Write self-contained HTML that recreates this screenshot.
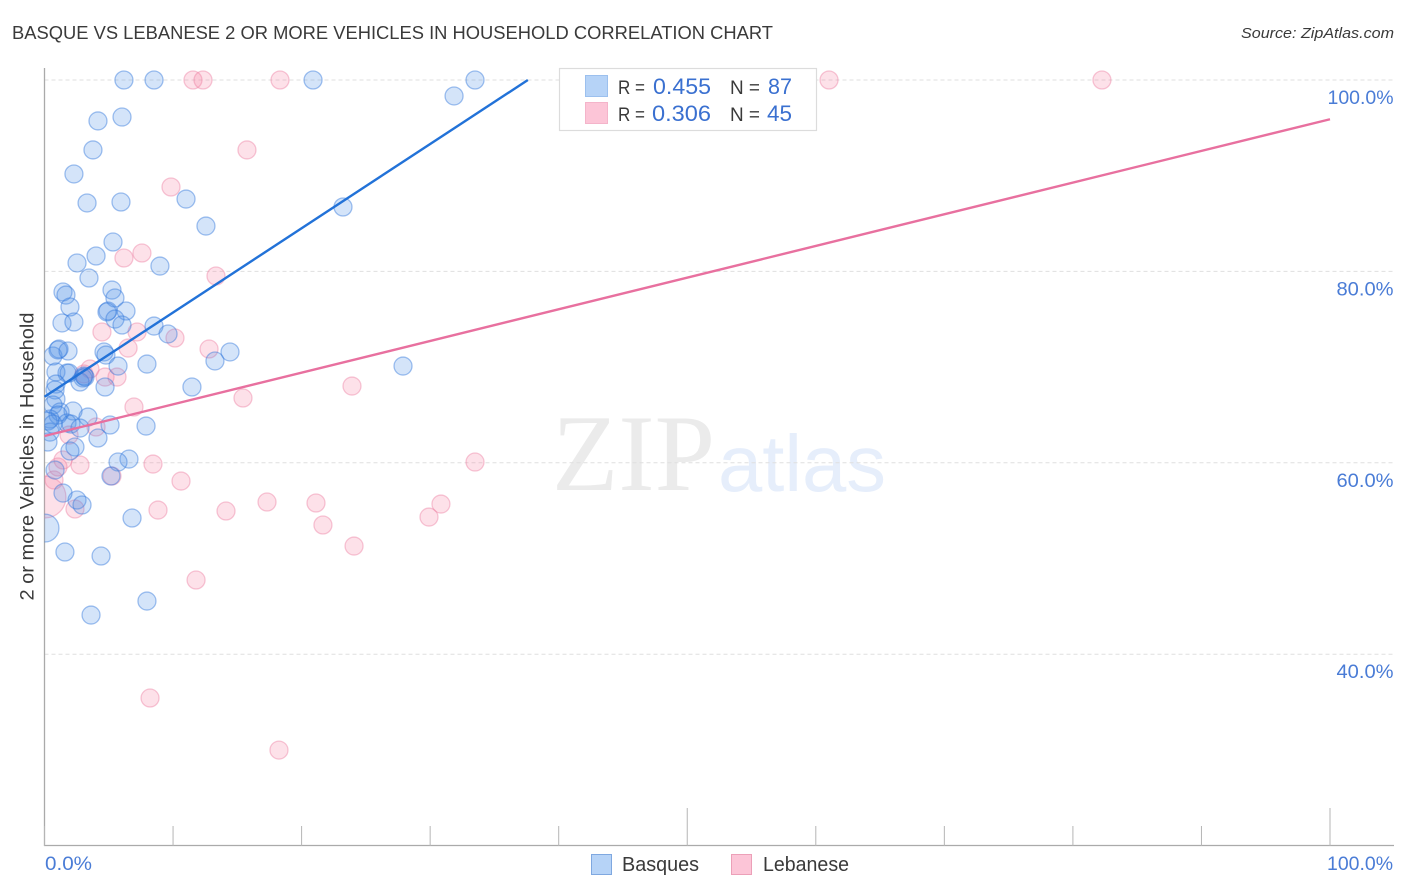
<!DOCTYPE html>
<html lang="en">
<head>
<meta charset="utf-8">
<title>Basque vs Lebanese 2 or More Vehicles in Household Correlation Chart</title>
<style>
html,body{margin:0;padding:0;background:#fff;width:1406px;height:892px;overflow:hidden}
svg{display:block;font-family:"Liberation Sans",sans-serif}
</style>
</head>
<body>
<svg id="chart" xmlns="http://www.w3.org/2000/svg" width="1406" height="892" viewBox="0 0 1406 892">
  <rect width="1406" height="892" fill="#fff"/>
  <text x="12" y="39" font-size="18.5" fill="#3a3a3a" textLength="761" lengthAdjust="spacingAndGlyphs">BASQUE VS LEBANESE 2 OR MORE VEHICLES IN HOUSEHOLD CORRELATION CHART</text>
  <text x="1241" y="38" font-size="15" font-style="italic" fill="#3a3a3a" textLength="153" lengthAdjust="spacingAndGlyphs">Source: ZipAtlas.com</text>
  <g id="watermark">
    <text x="552" y="490" font-family="'Liberation Serif',serif" font-size="109" fill="#ebebeb" textLength="163" lengthAdjust="spacingAndGlyphs">ZIP</text>
    <text x="718" y="491" font-size="80" fill="#e6eefb" textLength="168" lengthAdjust="spacingAndGlyphs">atlas</text>
  </g>
  <g id="grid"></g>
  <g id="axes"></g>
  <defs><clipPath id="plot-clip"><rect x="44.5" y="60" width="1350" height="785"/></clipPath></defs>
  <g id="marks" clip-path="url(#plot-clip)"></g>
  <g id="trends"></g>
  <text transform="translate(33.5,456.5) rotate(-90)" text-anchor="middle" font-size="19" fill="#3a3a3a" textLength="288" lengthAdjust="spacingAndGlyphs">2 or more Vehicles in Household</text>
  <g id="stats-legend">
    <rect x="559.5" y="68.5" width="257" height="62" fill="#fff" stroke="#dcdcdc" stroke-width="1.2"/>
    <rect x="585.5" y="75.5" width="22" height="21" fill="#b6d3f7" stroke="#9cc0ee"/>
    <rect x="585.5" y="102.5" width="22" height="21" fill="#fcc5d7" stroke="#f4b4ca"/>
    <text x="618" y="94" font-size="19" fill="#3a3a3a" textLength="27" lengthAdjust="spacingAndGlyphs">R =</text>
    <text x="653" y="94" font-size="22" fill="#3a70d0" textLength="58" lengthAdjust="spacingAndGlyphs">0.455</text>
    <text x="730" y="94" font-size="19" fill="#3a3a3a" textLength="30" lengthAdjust="spacingAndGlyphs">N =</text>
    <text x="768" y="94" font-size="22" fill="#3a70d0" textLength="24" lengthAdjust="spacingAndGlyphs">87</text>
    <text x="618" y="121" font-size="19" fill="#3a3a3a" textLength="27" lengthAdjust="spacingAndGlyphs">R =</text>
    <text x="652" y="121" font-size="22" fill="#3a70d0" textLength="59" lengthAdjust="spacingAndGlyphs">0.306</text>
    <text x="730" y="121" font-size="19" fill="#3a3a3a" textLength="30" lengthAdjust="spacingAndGlyphs">N =</text>
    <text x="767" y="121" font-size="22" fill="#3a70d0" textLength="25" lengthAdjust="spacingAndGlyphs">45</text>
  </g>
  <g id="bottom-legend">
    <rect x="591.5" y="854.5" width="20" height="20" fill="#b6d3f7" stroke="#7fa8e0"/>
    <text x="622" y="871" font-size="20" fill="#3a3a3a" textLength="77" lengthAdjust="spacingAndGlyphs">Basques</text>
    <rect x="731.5" y="854.5" width="20" height="20" fill="#fcc5d7" stroke="#eca0b8"/>
    <text x="763" y="871" font-size="20" fill="#3a3a3a" textLength="86" lengthAdjust="spacingAndGlyphs">Lebanese</text>
  </g>
</svg>
<script>
const yTickValues = [100, 80, 60, 40];
const yTickLabels = ['100.0%', '80.0%', '60.0%', '40.0%'];
const xTickValues = [0, 10, 20, 30, 40, 50, 60, 70, 80, 90, 100];
const xEndLabels = ['0.0%', '100.0%'];

const basqueX = [6.18,8.52,20.89,33.49,31.86,4.16,6.03,3.77,2.29,3.31,5.95,11.01,12.56,23.22,5.33,4.01,2.53,8.98,3.46,1.44,1.67,1.98,1.36,2.29,5.25,5.48,4.94,4.86,6.34,5.48,6.03,8.52,9.61,0.66,1.13,1.05,1.83,4.63,4.78,14.43,13.26,7.97,5.72,27.89,0.89,1.75,1.91,3.15,2.99,2.76,4.71,11.47,0.89,0.82,0.89,0.66,2.22,1.21,1.05,3.38,0.43,0.27,1.75,2.06,2.76,5.10,7.90,0.43,0.27,4.16,2.37,1.98,6.57,5.72,5.17,0.82,1.44,2.53,2.92,6.81,0.04,1.59,4.40,7.97,3.62,0.66,3.07];
const basqueY = [100,100,100,100,98.33,95.72,96.13,92.69,90.18,87.15,87.25,87.56,84.74,86.73,83.07,81.61,80.88,80.56,79.31,77.85,77.53,76.28,74.61,74.71,78.05,77.22,75.86,75.76,75.86,75.02,74.40,74.29,73.46,71.16,71.89,71.79,71.68,71.58,71.26,71.58,70.64,70.32,70.11,70.11,69.49,69.38,69.38,68.96,68.86,68.44,67.92,67.92,68.23,67.61,66.66,66.04,65.41,65.31,64.99,64.78,64.57,64.36,64.16,64.05,63.63,63.95,63.84,63.21,62.17,62.59,61.65,61.23,60.39,60.08,58.62,59.24,56.84,56.11,55.59,54.23,53.18,50.68,50.26,45.55,44.09,64.05,69.07];
const lebaneseX = [11.55,12.33,18.32,61.03,82.26,15.75,9.84,7.58,6.18,13.34,4.47,7.20,10.15,12.80,6.50,3.54,3.07,4.71,5.64,23.92,15.44,6.96,4.01,1.91,1.44,2.76,8.44,33.49,1.05,5.25,10.62,0.74,8.83,2.37,14.12,17.31,21.12,30.84,29.91,21.66,24.08,11.79,8.21,18.24,0.04];
const lebaneseY = [100,100,100,100,100,92.69,88.82,81.92,81.40,79.52,73.67,73.67,73.04,71.89,71.99,69.80,69.28,68.96,68.96,68.02,66.77,65.83,63.74,62.90,60.29,59.77,59.87,60.08,59.56,58.62,58.09,58.20,55.06,55.17,54.96,55.90,55.80,55.69,54.33,53.50,51.30,47.75,35.42,29.98,56.42];
// relative sample weight of the few oversized points, by point index
const basqueWeights = {80: 2.4};
const lebaneseWeights = {44: 5.4};

const basqueTrendX = [0, 37.6];
const basqueTrendY = [66.9, 100];
const lebaneseTrendX = [0, 100];
const lebaneseTrendY = [62.8, 95.9];

const NS = 'http://www.w3.org/2000/svg';
const xScale = v => 44.5 + v * 12.855;
const yScale = v => 80 + (100 - v) * 9.57;
const radiusFor = w => 9 * Math.sqrt(w);

function make(tag, attrs, parent) {
  const el = document.createElementNS(NS, tag);
  for (const k in attrs) el.setAttribute(k, attrs[k]);
  parent.appendChild(el);
  return el;
}

const grid = document.getElementById('grid');
const axes = document.getElementById('axes');
const marks = document.getElementById('marks');
const trends = document.getElementById('trends');

yTickValues.forEach((v, i) => {
  const line = make('line', {x1: 44.5, x2: 1394, y1: yScale(v), y2: yScale(v), stroke: '#dfdfdf', 'stroke-width': 1, 'stroke-dasharray': '4 3'}, grid);
  
  
  const label = make('text', {x: 1393.5, y: yScale(v) + 24, 'text-anchor': 'end', 'font-size': 19.5, fill: '#4a7cd6', textLength: yTickLabels[i].length === 6 ? 66 : 57, lengthAdjust: 'spacingAndGlyphs'}, axes);
  label.textContent = yTickLabels[i];
  
  
});

const yAxis = make('line', {x1: 44.5, x2: 44.5, y1: 68, y2: 846, stroke: '#aaa', 'stroke-width': 1.3}, axes);


const xAxis = make('line', {x1: 44, x2: 1394, y1: 845.5, y2: 845.5, stroke: '#aaa', 'stroke-width': 1.3}, axes);



xTickValues.forEach(v => {
  const major = v === 50 || v === 100;
  const tick = make('line', {x1: xScale(v), x2: xScale(v), y1: major ? 808 : 826, y2: 846, stroke: '#b5b5b5', 'stroke-width': 1}, axes);
  
  
});

const xLabelLow = make('text', {x: 45, y: 870, 'font-size': 19.5, fill: '#4a7cd6', textLength: 47, lengthAdjust: 'spacingAndGlyphs'}, axes);
xLabelLow.textContent = xEndLabels[0];


const xLabelHigh = make('text', {x: 1327, y: 870, 'font-size': 19.5, fill: '#4a7cd6', textLength: 66, lengthAdjust: 'spacingAndGlyphs'}, axes);
xLabelHigh.textContent = xEndLabels[1];



lebaneseX.forEach((x, i) => {
  const c = make('circle', {cx: xScale(x), cy: yScale(lebaneseY[i]), r: radiusFor(lebaneseWeights[i] || 1), fill: 'rgba(245,130,165,0.24)', stroke: 'rgba(235,125,160,0.42)', 'stroke-width': 1.3}, marks);
  
  
});
basqueX.forEach((x, i) => {
  const c = make('circle', {cx: xScale(x), cy: yScale(basqueY[i]), r: radiusFor(basqueWeights[i] || 1), fill: 'rgba(77,142,230,0.24)', stroke: 'rgba(50,120,220,0.45)', 'stroke-width': 1.3}, marks);
  
  
});

const basqueLine = make('line', {x1: xScale(basqueTrendX[0]), y1: yScale(basqueTrendY[0]), x2: xScale(basqueTrendX[1]), y2: yScale(basqueTrendY[1]), stroke: '#2272d8', 'stroke-width': 2.4}, trends);


const lebaneseLine = make('line', {x1: xScale(lebaneseTrendX[0]), y1: yScale(lebaneseTrendY[0]), x2: xScale(lebaneseTrendX[1]), y2: yScale(lebaneseTrendY[1]), stroke: '#e8709f', 'stroke-width': 2.4}, trends);


</script>
</body>
</html>
